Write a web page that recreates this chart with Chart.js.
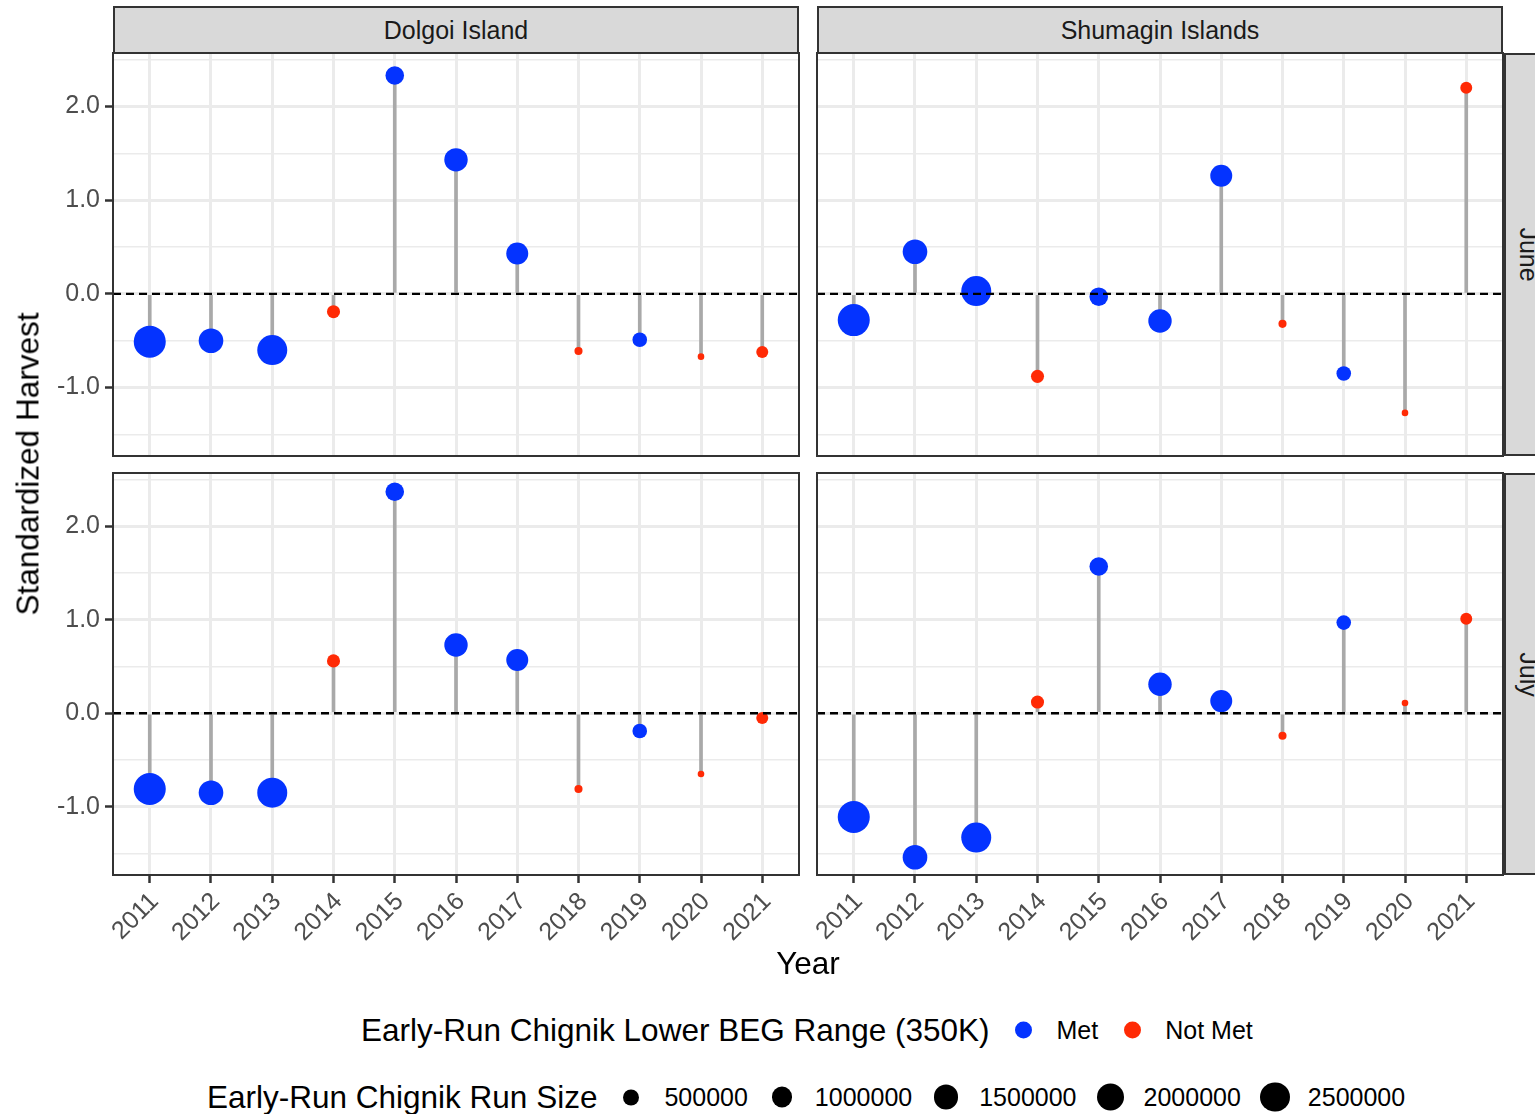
<!DOCTYPE html>
<html>
<head>
<meta charset="utf-8">
<script src="https://cdn.jsdelivr.net/npm/chart.js@4.4.0/dist/chart.umd.min.js"></script>
<style>
  body { margin: 0; width: 1535px; height: 1114px; overflow: hidden; background: #fff; position: relative;
         font-family: "Liberation Sans", Arial, Helvetica, sans-serif; }
  canvas { position: absolute; }
  .strip { position: absolute; background: #D9D9D9; border: 2px solid #333; box-sizing: border-box;
           display: flex; align-items: center; justify-content: center; font-size: 25px; color: #1A1A1A; }
  .strip span.rot { transform: rotate(90deg); white-space: nowrap; }
  .title { position: absolute; font-size: 31.5px; color: #000; white-space: nowrap; transform: translate(-50%, -50%); }
  .legend { position: absolute; display: flex; align-items: center; transform: translateY(-50%); white-space: nowrap; }
  .legend .ltitle { font-size: 31.5px; color: #000; margin-right: 16px; }
  .legend .key { width: 36px; height: 36px; display: flex; align-items: center; justify-content: center; }
  .legend .key i { display: block; border-radius: 50%; }
  .legend .lab { font-size: 25px; color: #000; margin-left: 15px; margin-right: 16px; }
</style>
</head>
<body>
<div class="strip" style="left:113px; top:6px; width:686px; height:48px;">Dolgoi Island</div>
<div class="strip" style="left:817px; top:6px; width:686px; height:48px;">Shumagin Islands</div>
<div class="strip" style="left:1504px; top:53px; width:48px; height:403px;"><span class="rot">June</span></div>
<div class="strip" style="left:1504px; top:473px; width:48px; height:402px;"><span class="rot">July</span></div>

<canvas id="dolgoiJune" width="802" height="407" style="left:0px; top:51px;"></canvas>
<canvas id="shumaginJune" width="749" height="407" style="left:757px; top:51px;"></canvas>
<canvas id="dolgoiJuly" width="802" height="514" style="left:0px; top:471px;"></canvas>
<canvas id="shumaginJuly" width="749" height="514" style="left:757px; top:471px;"></canvas>

<div class="title" style="left:28px; top:464px; transform: translate(-50%, -50%) rotate(-90deg);">Standardized Harvest</div>
<div class="title" style="left:808px; top:963px;">Year</div>

<div class="legend" id="legendMet" style="left:361px; top:1030px;"></div>
<div class="legend" id="legendSize" style="left:207px; top:1097px;"></div>

<script>
const years = [2011, 2012, 2013, 2014, 2015, 2016, 2017, 2018, 2019, 2020, 2021];
const yTicks = [-1.5, -1, -0.5, 0, 0.5, 1, 1.5, 2, 2.5];

// early-run size and whether the lower BEG (350K) was met, per year
const runSize = [3020000, 1570000, 2580000, 290000, 750000, 1380000, 1170000, 110000, 390000, 100000, 230000];
const begMet = [true, true, true, false, true, true, true, false, true, false, false];

// standardized harvest per area and month
const dolgoiJune = [-0.51, -0.50, -0.60, -0.19, 2.33, 1.43, 0.43, -0.61, -0.49, -0.67, -0.62];
const shumaginJune = [-0.28, 0.45, 0.03, -0.88, -0.03, -0.29, 1.26, -0.32, -0.85, -1.27, 2.20];
const dolgoiJuly = [-0.81, -0.85, -0.85, 0.56, 2.37, 0.73, 0.57, -0.81, -0.19, -0.65, -0.05];
const shumaginJuly = [-1.11, -1.54, -1.33, 0.12, 1.57, 0.31, 0.13, -0.24, 0.97, 0.11, 1.01];

const metLabels = ['Met', 'Not Met'];
const sizeBreaks = [500000, 1000000, 1500000, 2000000, 2500000];

const BLUE = '#0433FF', RED = '#FF2A05';
const FONT = '"Liberation Sans", Arial, Helvetica, sans-serif';
const xMin = 2010.4, xMax = 2021.6, yMin = -1.73, yMax = 2.57;

const sizeMin = Math.min(...runSize), sizeMax = Math.max(...runSize);
function radiusFor(v) {
  const t = Math.max(0, (v - sizeMin) / (sizeMax - sizeMin));
  return 3.3 + 12.7 * Math.sqrt(t);
}

const panelBorder = {
  id: 'panelBorder',
  afterDraw(chart) {
    const { ctx, chartArea: a } = chart;
    ctx.save();
    ctx.strokeStyle = '#333';
    ctx.lineWidth = 2;
    ctx.strokeRect(a.left, a.top, a.right - a.left, a.bottom - a.top);
    ctx.restore();
  }
};

function makePanel(id, values, showY, showX) {
  const gutterLeft = showY ? 113 : 60;
  const gutterBottom = showX ? 110 : 0;
  const isMajor = v => Math.abs(v - Math.round(v)) < 1e-9;
  return new Chart(document.getElementById(id), {
    type: 'scatter',
    data: {
      datasets: [
        {
          type: 'bar',
          data: years.map((yr, i) => ({ x: yr, y: [0, values[i]] })),
          backgroundColor: '#A9A9A9',
          barThickness: 3,
          order: 3
        },
        {
          type: 'scatter',
          data: years.map((yr, i) => ({ x: yr, y: values[i] })),
          pointRadius: runSize.map(radiusFor),
          pointHoverRadius: runSize.map(radiusFor),
          pointBackgroundColor: begMet.map(m => m ? BLUE : RED),
          pointBorderWidth: 0,
          order: 2
        },
        {
          type: 'line',
          data: [{ x: xMin, y: 0 }, { x: xMax, y: 0 }],
          borderColor: '#000',
          borderWidth: 2.4,
          borderDash: [8, 5],
          pointRadius: 0,
          order: 1
        }
      ]
    },
    options: {
      responsive: false,
      animation: false,
      devicePixelRatio: 1,
      events: [],
      layout: { autoPadding: false, padding: { left: 0, right: 3, top: 2, bottom: showX ? 0 : 2 } },
      plugins: { legend: { display: false }, tooltip: { enabled: false } },
      scales: {
        x: {
          type: 'linear', min: xMin, max: xMax, offset: false, bounds: 'data',
          border: { display: false },
          grid: { offset: false, color: '#EBEBEB', lineWidth: 3, drawTicks: showX,
                  tickLength: 8, tickColor: '#333', tickWidth: 2.5 },
          ticks: { display: showX, autoSkip: false, minRotation: 45, maxRotation: 45, padding: 4, labelOffset: 5,
                   color: '#4D4D4D', font: { size: 25, family: FONT }, callback: v => String(v) },
          afterBuildTicks: s => { s.ticks = years.map(v => ({ value: v })); },
          afterFit: s => { s.height = gutterBottom; s.paddingLeft = 0; s.paddingRight = 0; }
        },
        y: {
          type: 'linear', min: yMin, max: yMax, bounds: 'data',
          border: { display: false },
          grid: { color: '#EBEBEB', lineWidth: c => isMajor(c.tick.value) ? 3 : 1.5,
                  drawTicks: true, tickLength: 8, tickWidth: 2.5,
                  tickColor: c => (showY && isMajor(c.tick.value)) ? '#333' : 'rgba(0,0,0,0)' },
          ticks: { display: showY, padding: 5, color: '#4D4D4D', font: { size: 25, family: FONT },
                   callback: v => isMajor(v) ? v.toFixed(1) : '' },
          afterBuildTicks: s => { s.ticks = yTicks.map(v => ({ value: v })); },
          afterFit: s => { s.width = gutterLeft; s.paddingTop = 0; s.paddingBottom = 0; }
        }
      }
    },
    plugins: [panelBorder]
  });
}

makePanel('dolgoiJune', dolgoiJune, true, false);
makePanel('shumaginJune', shumaginJune, false, false);
makePanel('dolgoiJuly', dolgoiJuly, true, true);
makePanel('shumaginJuly', shumaginJuly, false, true);

// legends
function addKey(box, color, r, label) {
  const key = document.createElement('span');
  key.className = 'key';
  key.innerHTML = `<i style="width:${2 * r}px;height:${2 * r}px;background:${color}"></i>`;
  box.appendChild(key);
  const lab = document.createElement('span');
  lab.className = 'lab';
  lab.textContent = label;
  box.appendChild(lab);
}
const legendMet = document.getElementById('legendMet');
legendMet.innerHTML = '<span class="ltitle">Early-Run Chignik Lower BEG Range (350K)</span>';
metLabels.forEach((l, i) => addKey(legendMet, i === 0 ? BLUE : RED, 8.5, l));

const legendSize = document.getElementById('legendSize');
legendSize.innerHTML = '<span class="ltitle">Early-Run Chignik Run Size</span>';
sizeBreaks.forEach(b => addKey(legendSize, '#000', radiusFor(b), String(b)));
</script>
</body>
</html>
